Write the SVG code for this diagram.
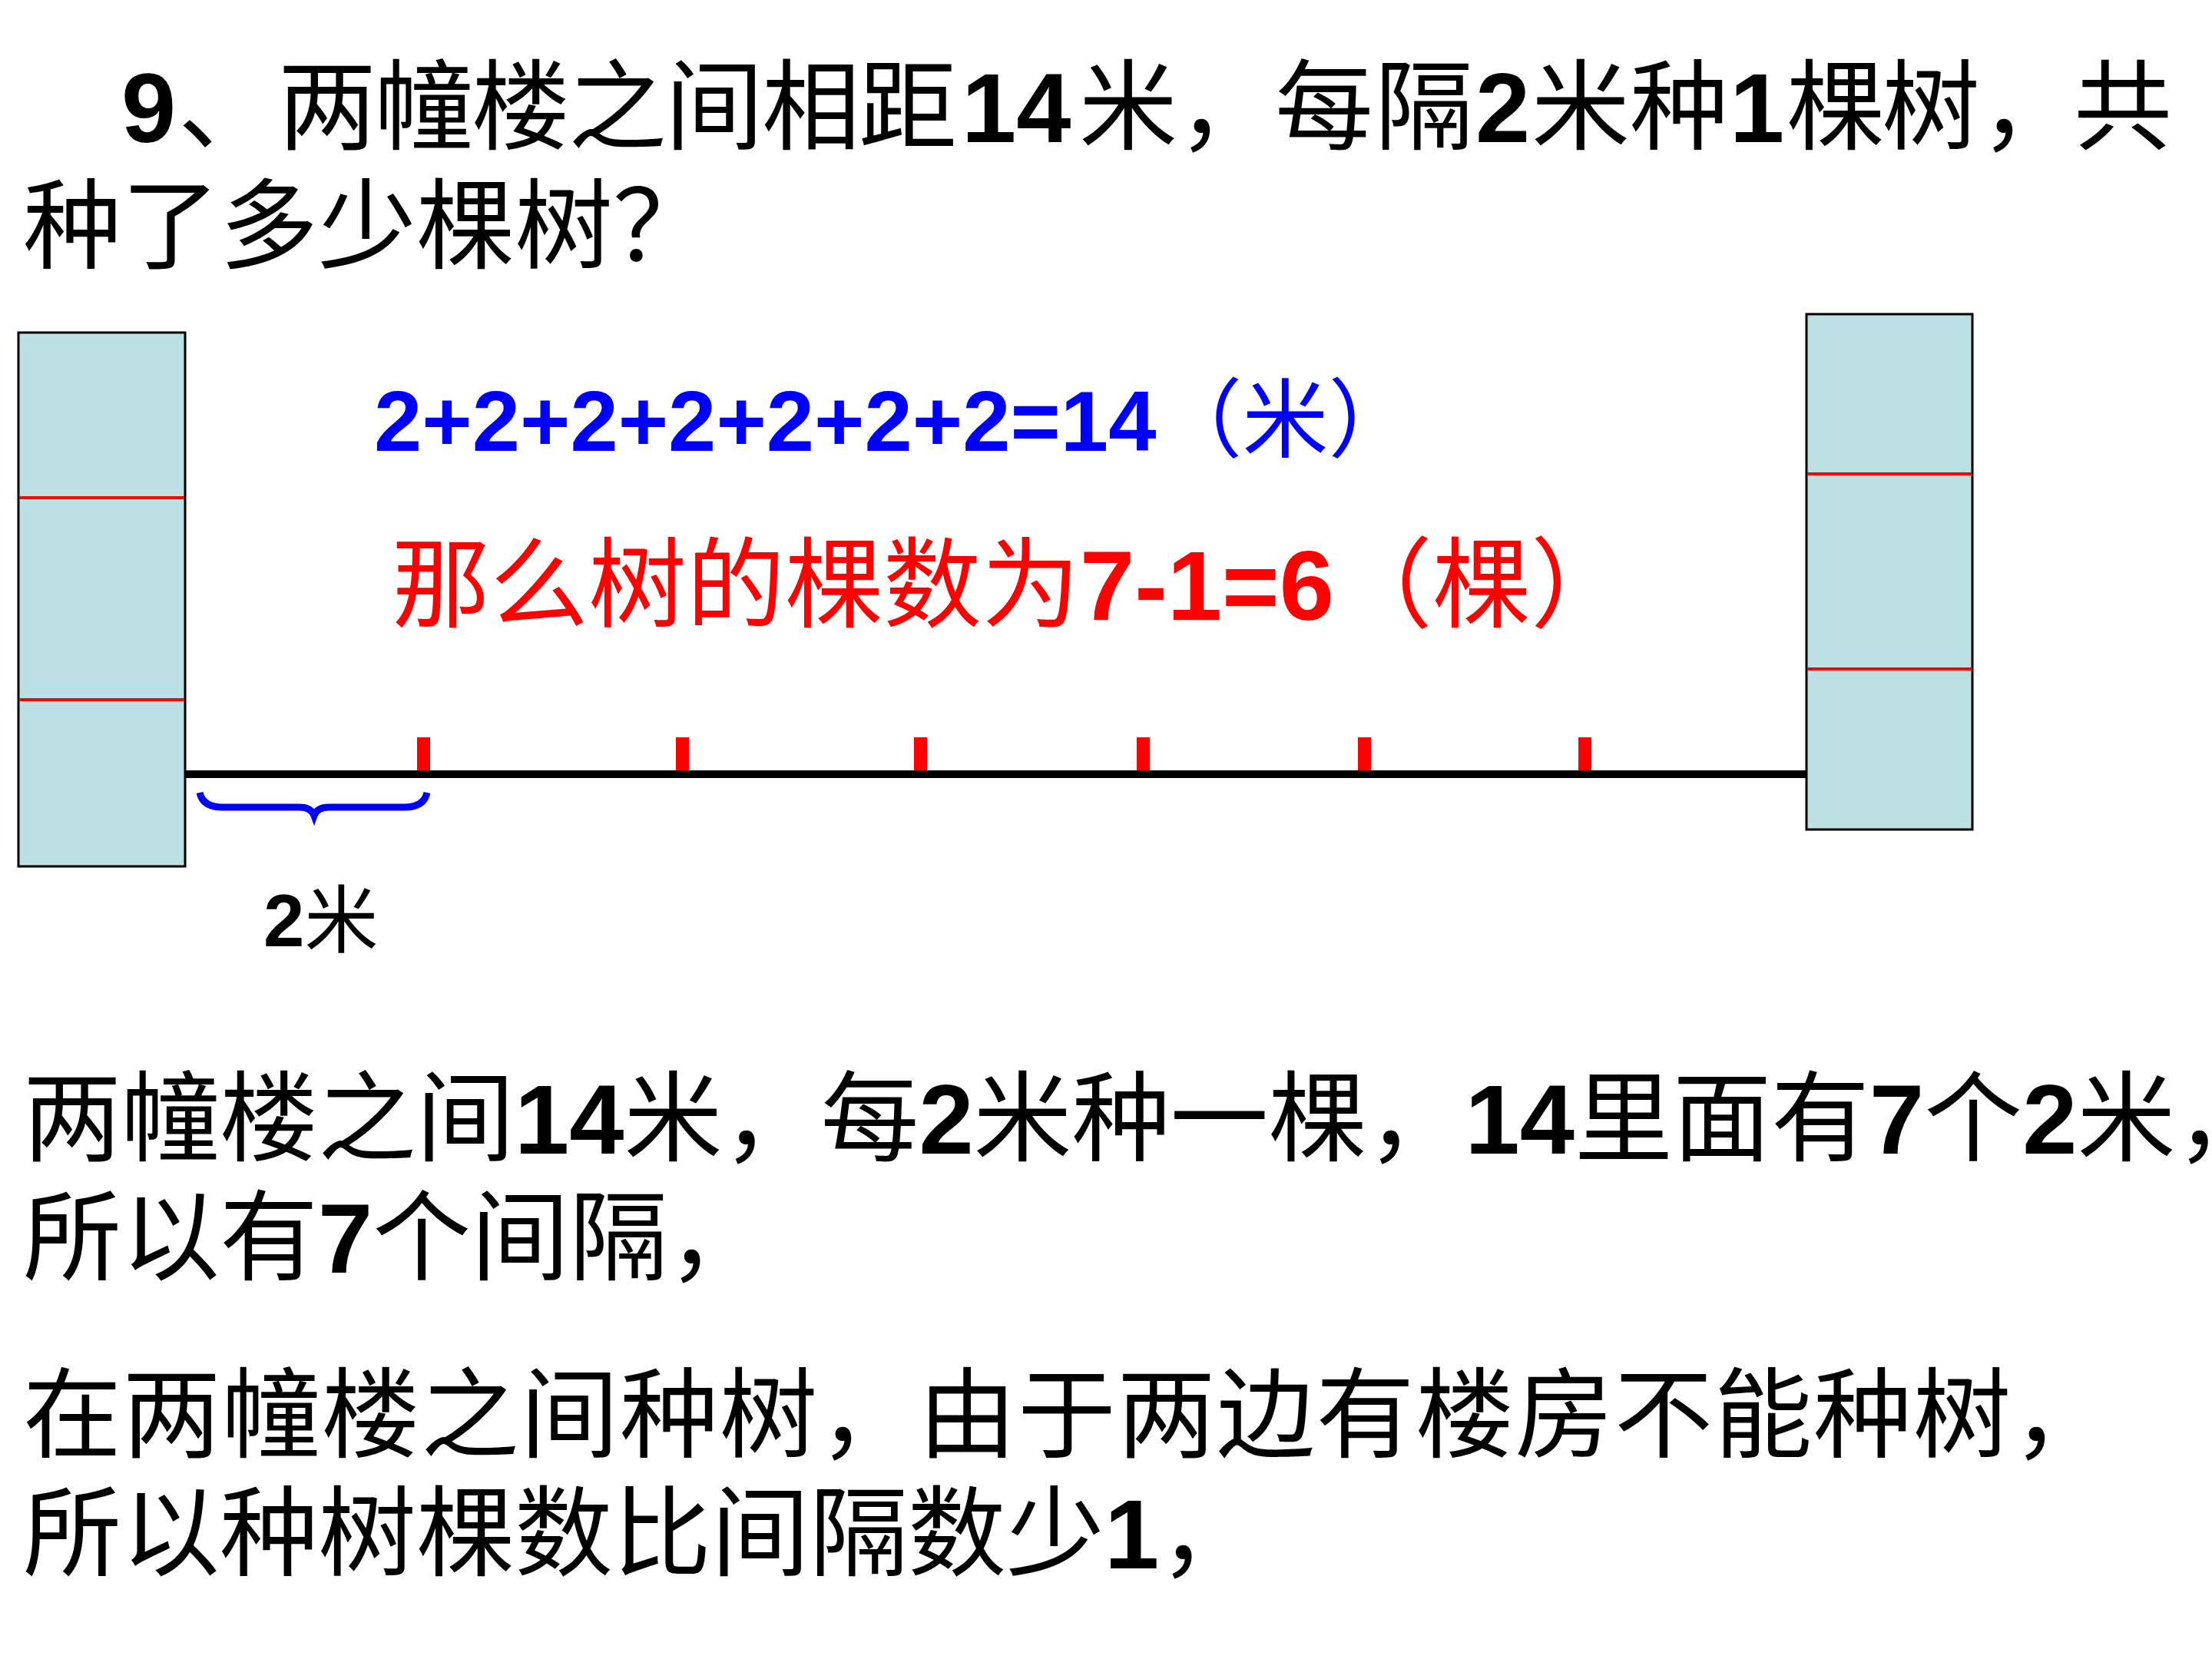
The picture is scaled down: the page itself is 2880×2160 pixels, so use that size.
<svg xmlns="http://www.w3.org/2000/svg" width="2880" height="2160" viewBox="0 0 2880 2160">
<style>
text{font-family:"Liberation Sans","Noto Sans CJK SC",sans-serif;font-weight:normal;}
.t{font-size:128px;fill:#000;}
.d{font-family:"Liberation Sans",sans-serif;font-weight:bold;}
.blue{font-size:112px;fill:#0000FF;}
.red{font-size:128px;fill:#FF0000;}
.lbl{font-size:96px;fill:#000;}
.bld{fill:#BDE1E3;stroke:#000;stroke-width:3;}
.floor{stroke:#FF0000;stroke-width:4;}
.tick{fill:#FF0000;}
</style>
<rect width="2880" height="2160" fill="#fff"/>
<g id="title">
<text class="t" y="185"><tspan class="d" x="158">9</tspan><tspan x="232">、</tspan><tspan x="362 488 614 740 866 992 1118">两幢楼之间相距</tspan><tspan class="d" x="1252">14</tspan><tspan x="1405 1533 1660 1790">米，每隔</tspan><tspan class="d" x="1921">2</tspan><tspan x="1994 2122">米种</tspan><tspan class="d" x="2252">1</tspan><tspan x="2326 2450 2578 2700">棵树，共</tspan></text>
<text class="t" x="30" y="340">种了多少棵树？</text>
</g>
<g id="building-left">
<rect class="bld" x="24" y="433" width="217" height="695"/>
<line class="floor" x1="25" y1="648" x2="240" y2="648"/>
<line class="floor" x1="25" y1="911" x2="240" y2="911"/>
</g>
<g id="building-right">
<rect class="bld" x="2352" y="409" width="216" height="671"/>
<line class="floor" x1="2353" y1="617" x2="2567" y2="617"/>
<line class="floor" x1="2353" y1="871" x2="2567" y2="871"/>
</g>
<g id="trees">
<rect class="tick" x="543" y="960" width="17" height="48"/>
<rect class="tick" x="880" y="960" width="17" height="48"/>
<rect class="tick" x="1190" y="960" width="17" height="48"/>
<rect class="tick" x="1480" y="960" width="17" height="48"/>
<rect class="tick" x="1768" y="960" width="17" height="48"/>
<rect class="tick" x="2055" y="960" width="17" height="48"/>
</g>
<g id="connectors">
<line x1="241" y1="1008" x2="2352" y2="1008" stroke="#000" stroke-width="10"/>
<path d="M260,1032 Q264,1051 290,1051 L390,1051 Q405,1051 409,1062 Q413,1051 428,1051 L526,1051 Q552,1051 556,1032" fill="none" stroke="#0000FF" stroke-width="9"/>
</g>
<g id="label-2m">
<text class="lbl" x="343" y="1232"><tspan class="d">2</tspan>米</text>
</g>
<g id="equation">
<text class="blue" x="487" y="587"><tspan class="d">2+2+2+2+2+2+2=14</tspan>（米）</text>
</g>
<g id="answer">
<text class="red" x="510" y="807">那么树的棵数为<tspan class="d">7-1=6</tspan>（棵）</text>
</g>
<g id="explanation">
<text class="t" x="30" y="1502">两幢楼之间<tspan class="d">14</tspan>米，每<tspan class="d">2</tspan>米种一棵，<tspan class="d">14</tspan>里面有<tspan class="d">7</tspan>个<tspan class="d">2</tspan>米，</text>
<text class="t" x="30" y="1657">所以有<tspan class="d">7</tspan>个间隔，</text>
<text class="t" x="30" y="1888" letter-spacing="1.5">在两幢楼之间种树，由于两边有楼房不能种树，</text>
<text class="t" x="30" y="2042">所以种树棵数比间隔数少<tspan class="d">1</tspan>，</text>
</g>
</svg>
